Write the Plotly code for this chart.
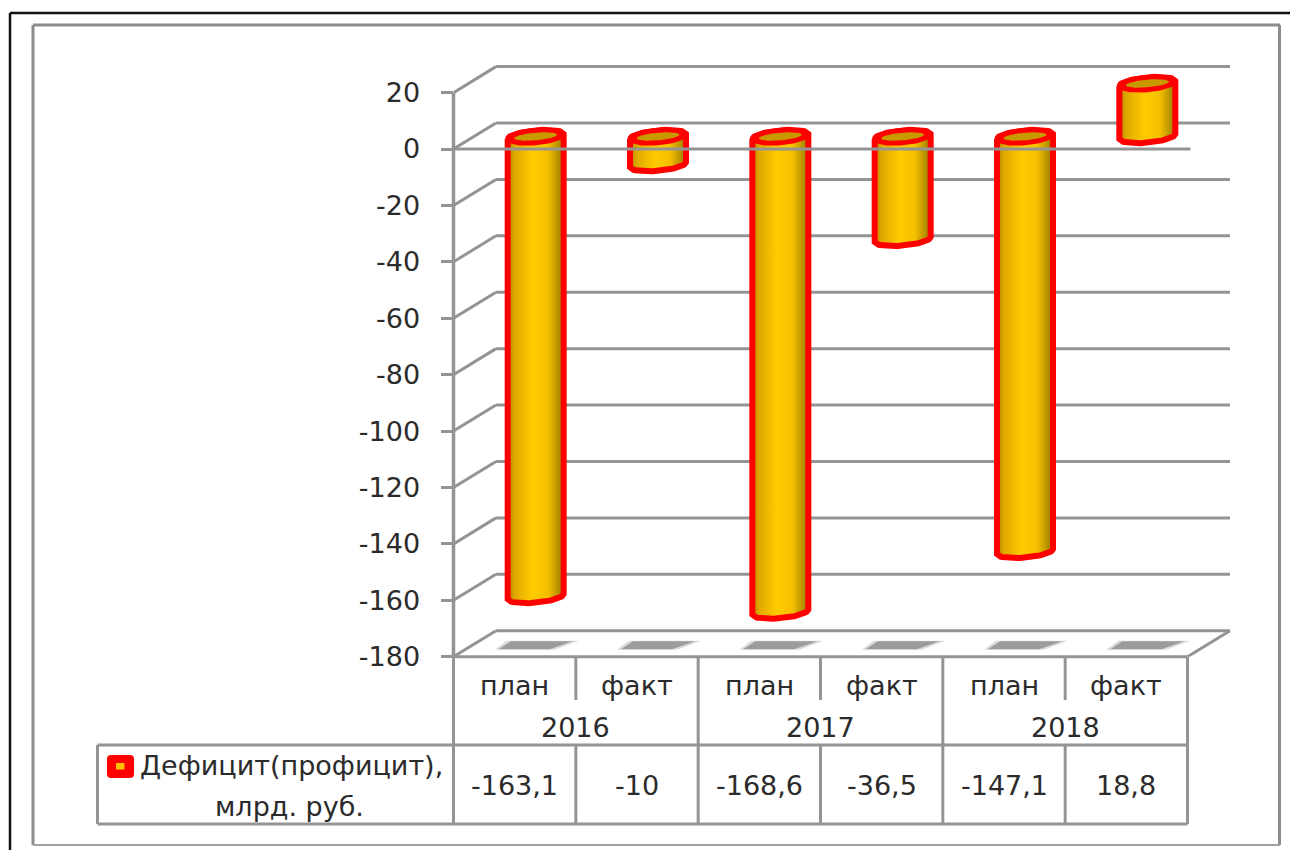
import numpy as np
import plotly.graph_objects as go

# Chart values
years = ["2016", "2017", "2018"]
periods = ["план", "факт", "план", "факт", "план", "факт"]
deficit = [-163.1, -10, -168.6, -36.5, -147.1, 18.8]
deficit_labels = ["-163,1", "-10", "-168,6", "-36,5", "-147,1", "18,8"]
y_ticks = [20, 0, -20, -40, -60, -80, -100, -120, -140, -160, -180]
y_tick_labels = ["20", "0", "-20", "-40", "-60", "-80", "-100", "-120", "-140", "-160", "-180"]
series_name = ["Дефицит(профицит),", "млрд. руб."]

W, H = 1290, 850
LEFT, RIGHT = 453.5, 1187.5
TOP, BOTTOM = 92.6, 656.7
Y_MIN, Y_MAX = -180, 20
N = len(deficit)

PX_X = (RIGHT - LEFT) / N                # pixels per category
PX_Y = (BOTTOM - TOP) / (Y_MAX - Y_MIN)  # pixels per axis unit


def ox(px):
    """Horizontal pixel offset expressed in category units."""
    return np.asarray(px, dtype=float) / PX_X


def oy(px):
    """Vertical pixel offset (downwards) expressed in axis units."""
    return -np.asarray(px, dtype=float) / PX_Y


DEPTH_X, DEPTH_Y = 42.5, -26   # back wall displacement of the oblique projection
PLOT_RIGHT, PLOT_TOP = 1250, 50  # drawing area also holds the receding walls
GRID = "#949494"
RED = "#ff0000"
TEXT = "#2b2b2b"
FONT = "DejaVu Sans"
FONT_SIZE = 27

fig = go.Figure()


def line(xs, ys, color=GRID, width=3):
    fig.add_trace(go.Scatter(x=xs, y=ys, mode="lines", hoverinfo="skip", showlegend=False,
                             line=dict(color=color, width=width), cliponaxis=False))


x0, x1 = -0.5, N - 0.5

# Back wall gridlines and the slanted side wall lines
for v in y_ticks:
    line([x0 + ox(DEPTH_X), x1 + ox(DEPTH_X)], [v + oy(DEPTH_Y), v + oy(DEPTH_Y)])
    line([x0, x0 + ox(DEPTH_X)], [v, v + oy(DEPTH_Y)])

# Floor edge on the right
line([x1, x1 + ox(DEPTH_X)], [Y_MIN, Y_MIN + oy(DEPTH_Y)])

BAR_DX, BAR_DY = 21, -12.5   # cylinders stand midway through the depth
A, B, TILT = 28, 6.2, 2.5    # side wall half width, bottom curve depth and tilt, pixels
t = np.linspace(0, 2 * np.pi, 73)


def ellipse(center, value, ts, a=A, b=B, tilt=TILT):
    ex = center + ox(BAR_DX + a * np.cos(ts))
    ey = value + oy(BAR_DY + b * np.sin(ts) - tilt * np.cos(ts))
    return ex, ey


def filled(xs, ys, color):
    fig.add_trace(go.Scatter(x=xs, y=ys, mode="lines", fill="toself", fillcolor=color,
                             line=dict(width=0), hoverinfo="skip", showlegend=False,
                             cliponaxis=False))


# Floor shadows under each column: a pale halo and a darker core
for i in range(N):
    for sx, sy, shade in (
        (np.array([-29, 43, 19, -41, -29]), np.array([-4.5, -4.5, 4.5, 4.5, -4.5]), "#dadada"),
        (np.array([-25, 37, 14, -37, -25]), np.array([-4, -4, 4, 4, -4]), "#9c9c9c"),
    ):
        filled(i + ox(BAR_DX + sx), Y_MIN + oy(BAR_DY + 1 + sy), shade)

# Cylinders: gradient body with a red outline, then a thick red rim and the dark opening
for i, v in enumerate(deficit):
    top, bottom = max(v, 0), min(v, 0)
    upper = np.linspace(np.pi, 2 * np.pi, 37)
    lower = np.linspace(0, np.pi, 37)
    ux, uy = ellipse(i, top, upper)
    lx, ly = ellipse(i, bottom, lower)
    bx = np.r_[ux, lx, ux[0]]
    by = np.r_[uy, ly, uy[0]]
    fig.add_trace(go.Scatter(
        x=bx, y=by, mode="lines", fill="toself", hoverinfo="skip", showlegend=False,
        line=dict(color=RED, width=6), cliponaxis=False,
        fillgradient=dict(type="horizontal", colorscale=[
            [0.0, "#a98400"], [0.12, "#dfa800"], [0.45, "#ffcc00"],
            [0.72, "#f5bf00"], [1.0, "#967a00"]]),
    ))
    rx, ry = ellipse(i, top, t, a=30.5, b=8.8)
    filled(rx, ry, RED)
    ix, iy = ellipse(i, top, t, a=21.5, b=3.8, tilt=1.8)
    filled(ix, iy, "#c99a00")

# Front zero line runs across the columns
line([x0, x1 + ox(3)], [0, 0])

x_top = x0 + (PLOT_RIGHT - LEFT) / PX_X
y_top = Y_MIN + (BOTTOM - PLOT_TOP) / PX_Y

fig.update_layout(
    width=W, height=H, margin=dict(l=0, r=0, t=0, b=0),
    paper_bgcolor="white", plot_bgcolor="rgba(0,0,0,0)", showlegend=False,
    font=dict(family=FONT, size=FONT_SIZE, color=TEXT),
    xaxis=dict(domain=[LEFT / W, PLOT_RIGHT / W], range=[x0, x_top], showgrid=False, zeroline=False,
               showticklabels=False, ticks="", fixedrange=True, automargin=False),
    yaxis=dict(domain=[1 - BOTTOM / H, 1 - PLOT_TOP / H], range=[Y_MIN, y_top], showgrid=False,
               zeroline=False, tickmode="array", tickvals=y_ticks, ticktext=y_tick_labels,
               ticks="outside", ticklen=12, tickwidth=3, tickcolor=GRID, showline=False,
               ticklabelstandoff=15, fixedrange=True, automargin=False,
               tickfont=dict(family=FONT, size=FONT_SIZE, color=TEXT)),
)


def frame(x_a, y_a, x_b, y_b, color=GRID, width=3):
    fig.add_shape(type="line", xref="paper", yref="paper", x0=x_a / W, x1=x_b / W,
                  y0=1 - y_a / H, y1=1 - y_b / H, line=dict(color=color, width=width), layer="below")


# Outer page border and chart area border
frame(10, 13, 1290, 13, "#111111", 2.5)
frame(10, 13, 10, 850, "#111111", 2.5)
frame(33, 25, 1280, 25, "#8c8c8c", 3)
frame(33, 25, 33, 845, "#8c8c8c", 3)
frame(1279.5, 25, 1279.5, 845, "#8c8c8c", 3)
frame(33, 845, 1280, 845, "#a0a0a0", 2)

# Value axis line
fig.add_shape(type="line", xref="paper", yref="y", x0=LEFT / W, x1=LEFT / W, y0=Y_MIN, y1=Y_MAX,
              line=dict(color=GRID, width=3.5), layer="below")

# Data table grid under the axis
ROW1, ROW2, ROW3, ROW4 = 656.7, 700, 745, 824
frame(LEFT, ROW1, RIGHT, ROW1)
for i in range(N + 1):
    xp = LEFT + i * PX_X
    frame(xp, ROW1, xp, ROW4 if i % 2 == 0 else ROW2)
    if i % 2:
        frame(xp, ROW3, xp, ROW4)
frame(97.5, ROW3, RIGHT, ROW3)
frame(97.5, ROW4, RIGHT, ROW4)
frame(97.5, ROW3, 97.5, ROW4)


def label(x, xref, y_px, text):
    fig.add_annotation(x=x, xref=xref, y=1 - y_px / H, yref="paper", text=text, showarrow=False,
                       font=dict(family=FONT, size=FONT_SIZE, color=TEXT),
                       xanchor="center", yanchor="middle")


for i, p in enumerate(periods):
    label(i, "x", 685, p)
    label(i, "x", 785, deficit_labels[i])
for j, y in enumerate(years):
    label(2 * j + 0.5, "x", 727, y)

label(291.5 / W, "paper", 765, series_name[0])
label(289 / W, "paper", 806, series_name[1])


def rounded_rect(xa, ya, xb, yb, r):
    """SVG path of a rounded rectangle in paper coordinates."""
    fx = lambda v: f"{v / W:.5f}"
    fy = lambda v: f"{1 - v / H:.5f}"
    return (f"M{fx(xa + r)},{fy(ya)} L{fx(xb - r)},{fy(ya)} Q{fx(xb)},{fy(ya)} {fx(xb)},{fy(ya + r)} "
            f"L{fx(xb)},{fy(yb - r)} Q{fx(xb)},{fy(yb)} {fx(xb - r)},{fy(yb)} "
            f"L{fx(xa + r)},{fy(yb)} Q{fx(xa)},{fy(yb)} {fx(xa)},{fy(yb - r)} "
            f"L{fx(xa)},{fy(ya + r)} Q{fx(xa)},{fy(ya)} {fx(xa + r)},{fy(ya)} Z")


# Legend key
fig.add_shape(type="path", xref="paper", yref="paper", path=rounded_rect(107, 755, 134, 778, 4),
              fillcolor=RED, line=dict(width=0))
fig.add_shape(type="rect", xref="paper", yref="paper", x0=116 / W, x1=124.5 / W,
              y0=1 - 769.5 / H, y1=1 - 763 / H, fillcolor="#ffc000", line=dict(width=0))

fig.write_html("out.html")
